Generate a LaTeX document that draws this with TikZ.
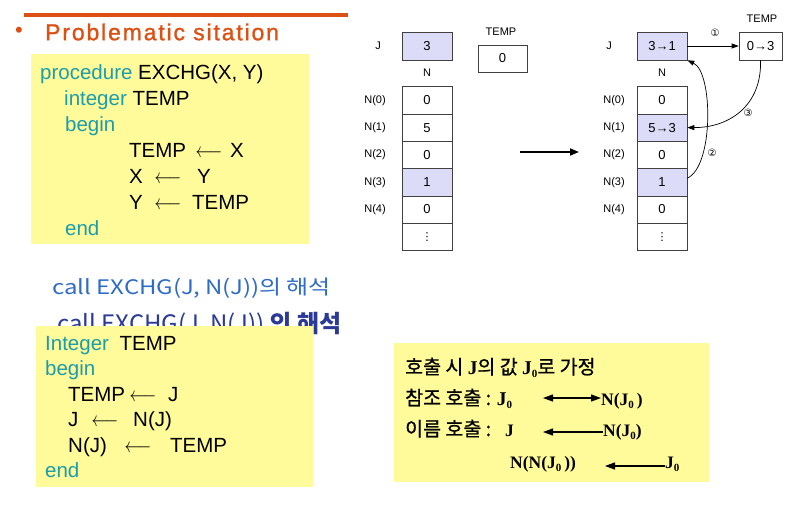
\documentclass[tikz,border=0pt]{standalone}
\usepackage{fontspec}
\setmainfont{Liberation Sans}
\newfontfamily\ko{Noto Sans CJK KR}
\newfontfamily\kom[FakeBold=0.8]{Noto Sans CJK KR}
\newfontfamily\bsf{Liberation Serif}
\newfontfamily\symf{DejaVu Sans}
\newfontfamily\titlef[LetterSpace=8,FakeBold=1.2]{Liberation Sans}
\usetikzlibrary{arrows.meta}
\definecolor{hdr}{HTML}{DC5014}
\definecolor{notebg}{HTML}{FFFA9A}
\definecolor{kw}{HTML}{1C9DAA}
\definecolor{cellhl}{HTML}{DCDCF8}
\definecolor{pen}{HTML}{2F6CC6}
\definecolor{pentwo}{HTML}{2A3A96}
\newcommand{\fs}[1]{\fontsize{#1}{#1}\selectfont}
\newcommand{\lar}{\scalebox{0.8}[1]{$\longleftarrow$}}
\newcommand{\jz}{J\raisebox{-3.5pt}{\fs{11}0}}
\begin{document}
\begin{tikzpicture}[x=1pt,y=-1pt,
  code/.style={font=\fs{20.5}, anchor=base west, inner sep=0},
  kwd/.style={code, text=kw},
  codearr/.style={font=\fs{20.5}, anchor=base, inner sep=0},
  cell/.style={draw=black!75, line width=0.6pt, minimum width=50pt, minimum height=27.3pt, inner sep=0, font=\fs{13}},
  lbl/.style={font=\fs{11}, inner sep=0},
  circ/.style={font=\symf\fs{10}, inner sep=0},
  arr/.style={->, >={Triangle[length=7pt,width=5pt]}, line width=0.7pt},
  kline/.style={anchor=base west, inner sep=0, font=\fs{19.5}},
  bline/.style={anchor=base west, inner sep=0, font=\bsf\bfseries\fs{17.5}},
  barr/.style={<->, >={Triangle[length=10pt,width=7pt]}, line width=1.1pt},
  larr/.style={<-, >={Triangle[length=10pt,width=7pt]}, line width=1.1pt}]
\useasboundingbox (0,0) rectangle (812,507);
\fill[white] (0,0) rectangle (812,507);

% header
\draw[hdr, line width=4.5pt] (24,15) -- (348,15);
\node[text=hdr, font=\fs{22}, inner sep=0] (bul) at (19,32) {•};
\node[font=\titlef\fs{23}, text=hdr, anchor=west, inner sep=0] (title) at (45,32) {Problematic sitation};

% code box 1
\fill[notebg] (31,54) rectangle (309,244);
\node[code] (p1) at (40,79) {\textcolor{kw}{procedure} EXCHG(X, Y)};
\node[code] (p2) at (64,105) {\textcolor{kw}{integer} TEMP};
\node[kwd] (p3) at (65,131) {begin};
\node[code] (p4a) at (129,157) {TEMP};
\node[codearr] (p4b) at (209,157) {\lar};
\node[code] (p4c) at (230,157) {X};
\node[code] (p5a) at (129,183) {X};
\node[codearr] (p5b) at (168,183) {\lar};
\node[code] (p5c) at (197,183) {Y};
\node[code] (p6a) at (129,209) {Y};
\node[codearr] (p6b) at (168,209) {\lar};
\node[code] (p6c) at (192,209) {TEMP};
\node[kwd] (p7) at (65,235) {end};

% handwriting
\node[font=\ko\fs{20}, text=pen, anchor=west, inner sep=0] (hw) at (52,288) {\scalebox{1.2}[1]{call EXCHG(J, N(J))의 해석}};
\node[font=\ko\fs{24}, text=pentwo, anchor=west, inner sep=0] (hw2) at (57,325) {call EXCHG(J, N(J)) {\bfseries 의 해석}};

% code box 2
\fill[notebg] (36,326) rectangle (313,487);
\node[code] (q1) at (45,350) {\textcolor{kw}{Integer}\hspace{5pt} TEMP};
\node[kwd] (q2) at (45,375.5) {begin};
\node[code] (q3a) at (68,401) {TEMP};
\node[codearr] (q3b) at (143,401) {\lar};
\node[code] (q3c) at (168,401) {J};
\node[code] (q4a) at (68,426.5) {J};
\node[codearr] (q4b) at (105,426.5) {\lar};
\node[code] (q4c) at (133,426.5) {N(J)};
\node[code] (q5a) at (68,452) {N(J)};
\node[codearr] (q5b) at (138,452) {\lar};
\node[code] (q5c) at (170,452) {TEMP};
\node[kwd] (q6) at (45,477.5) {end};

% box 3
\fill[notebg] (394,343) rectangle (709,482);
\node[kline] (k1) at (405,374) {{\kom 호출 시 }{\bsf\bfseries J}{\kom 의 값 }{\bsf\bfseries\jz}{\kom 로 가정}};
\node[kline] (k2) at (405,405) {{\kom 참조 호출 : }{\bsf\bfseries\jz}};
\node[bline] (n2) at (601,405) {N(\jz\,)};
\node[kline] (k3) at (405,436) {{\kom 이름 호출 :}};
\node[bline] (k3j) at (505,436) {J};
\node[bline] (n3) at (603,436) {N(\jz)};
\node[bline] (n4a) at (510,468) {N(N(\jz\,))};
\node[bline] (n4b) at (665,468) {\jz};
\coordinate (a2) at (543,398);
\coordinate (a3) at (543,432);
\coordinate (a4) at (605,466);
\draw[barr] (a2) -- (a2 -| n2.west);
\draw[larr] (a3) -- (a3 -| n3.west);
\draw[larr] (a4) -- (a4 -| n4b.west);

% left memory diagram
\node[lbl] (jLl) at (378,46) {J};
\node[cell, fill=cellhl, minimum height=28pt] (jL) at (427,46) {3};
\node[lbl] (tLl) at (501,32) {TEMP};
\node[cell, minimum width=49pt, minimum height=27pt] (tL) at (502.5,58.5) {0};
\node[lbl] (nLl) at (427,73) {N};
\node[cell] (aL0) at (427,100.3) {0};
\node[cell] (aL1) at (427,127.6) {5};
\node[cell] (aL2) at (427,154.9) {0};
\node[cell, fill=cellhl] (aL3) at (427,182.2) {1};
\node[cell] (aL4) at (427,209.5) {0};
\node[cell, font=\symf\fs{11}] (aL5) at (427,236.8) {⋮};
\node[lbl] (lL0) at (375,100.3) {N(0)};
\node[lbl] (lL1) at (375,127.6) {N(1)};
\node[lbl] (lL2) at (375,154.9) {N(2)};
\node[lbl] (lL3) at (375,182.2) {N(3)};
\node[lbl] (lL4) at (375,209.5) {N(4)};

% middle arrow
\coordinate (mA) at (520,152);
\coordinate (mB) at (579,152);
\draw[->, >={Triangle[length=9pt,width=7pt]}, line width=1.8pt] (mA) -- (mB);

% right memory diagram
\node[lbl] (jRl) at (609,46) {J};
\node[cell, fill=cellhl, minimum height=28pt] (jR) at (662,46) {3→1};
\node[lbl] (tRl) at (762,19) {TEMP};
\node[cell, minimum width=43pt, minimum height=28pt] (tR) at (760.5,46) {0→3};
\node[lbl] (nRl) at (662,73) {N};
\node[cell] (aR0) at (662,100.3) {0};
\node[cell, fill=cellhl] (aR1) at (662,127.6) {5→3};
\node[cell] (aR2) at (662,154.9) {0};
\node[cell, fill=cellhl] (aR3) at (662,182.2) {1};
\node[cell] (aR4) at (662,209.5) {0};
\node[cell, font=\symf\fs{11}] (aR5) at (662,236.8) {⋮};
\node[lbl] (lR0) at (614,100.3) {N(0)};
\node[lbl] (lR1) at (614,127.6) {N(1)};
\node[lbl] (lR2) at (614,154.9) {N(2)};
\node[lbl] (lR3) at (614,182.2) {N(3)};
\node[lbl] (lR4) at (614,209.5) {N(4)};

\draw[arr] (jR.east) -- (tR.west);
\node[circ] (c1) at (715,33) {①};
\draw[arr] ([yshift=4pt]aR3.east) .. controls (714,166) and (713,72) .. (jR.south east);
\node[circ] (c2) at (712,153) {②};
\draw[arr] (tR.south) .. controls (762,105) and (730,127.6) .. (aR1.east);
\node[circ] (c3) at (748,113) {③};
\end{tikzpicture}
\end{document}
